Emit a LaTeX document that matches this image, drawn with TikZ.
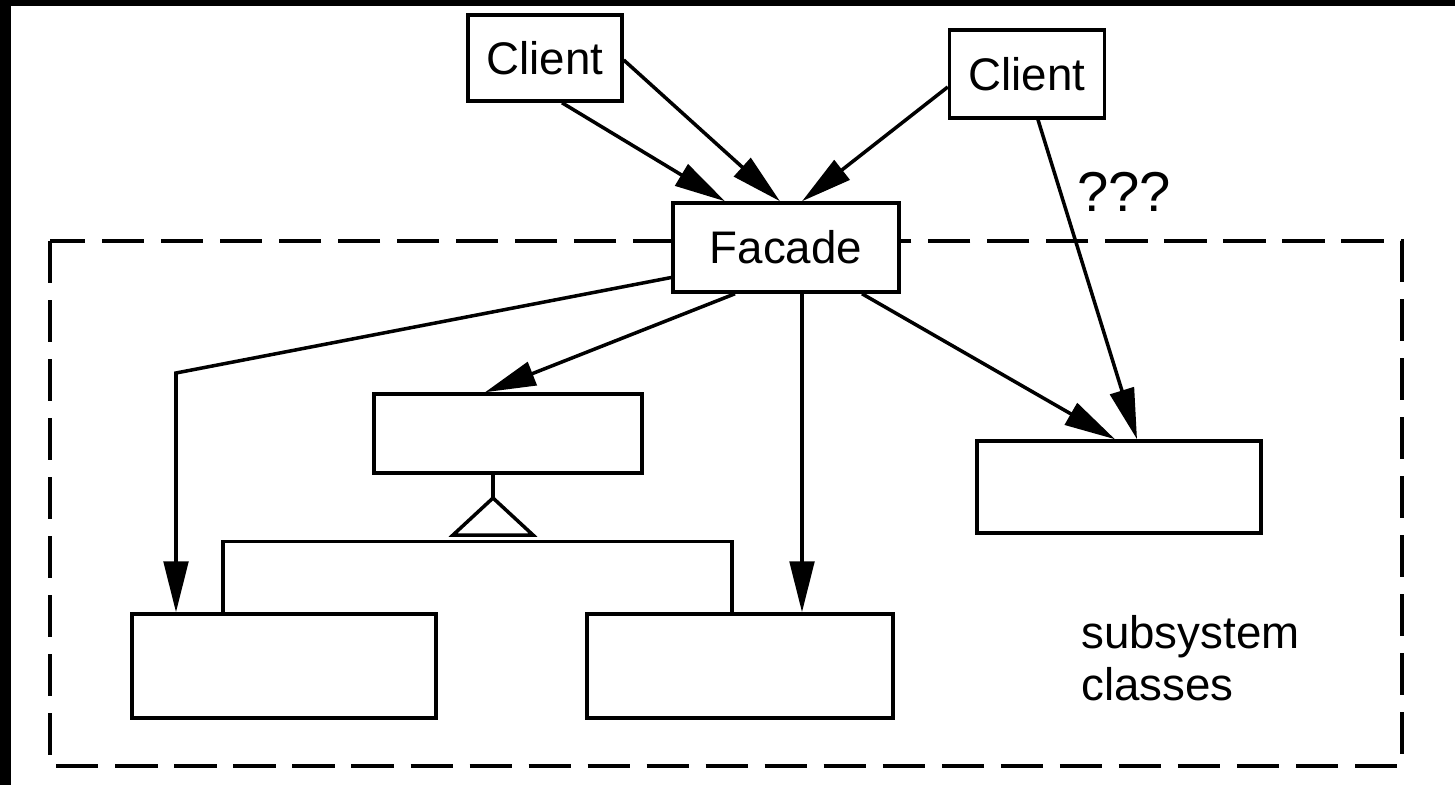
\documentclass[tikz,border=0pt]{standalone}
\usepackage{fontspec}
\setmainfont{Liberation Sans}
\usetikzlibrary{positioning,calc,arrows.meta}

\begin{document}
\begin{tikzpicture}
   [x=0.02cm,y=-0.02cm,
    every node/.style={inner sep=0pt,font=\fontsize{26}{29.5}\selectfont},
    cls/.style={draw,line width=2pt,fill=white},
    lin/.style={line width=2pt},
    arr/.style={line width=2pt,-{Triangle[length=29pt,width=14pt]}}]

%%%%%%%%%%%%%%%%%%%%%%%%%%%%%%%%%%%%%%%%%%%%%%%%%%%%%%%%%%%%%%%
% Frame and subsystem boundary
%%%%%%%%%%%%%%%%%%%%%%%%%%%%%%%%%%%%%%%%%%%%%%%%%%%%%%%%%%%%%%%

\fill[black] (0,0) rectangle (1455,785);
\fill[white] (11,6) rectangle (1455,785);

% Dashed box
\draw[lin, dash pattern=on 24pt off 9.6pt] (50,241) rectangle (1402,766);

%%%%%%%%%%%%%%%%%%%%%%%%%%%%%%%%%%%%%%%%%%%%%%%%%%%%%%%%%%%%%%%
% Classes
%%%%%%%%%%%%%%%%%%%%%%%%%%%%%%%%%%%%%%%%%%%%%%%%%%%%%%%%%%%%%%%

\node[cls,minimum width=3.08cm,minimum height=1.72cm] (client1) at (545,58) {Client};
\node[cls,minimum width=3.1cm,minimum height=1.76cm] (client2) at (1027,74) {Client};
\node[cls,minimum width=4.52cm,minimum height=1.78cm] (facade) at (786,247.5) {Facade};

\node[cls,minimum width=5.36cm,minimum height=1.58cm] (super) at (508,433.5) {};
\node[cls,minimum width=6.08cm,minimum height=2.08cm] (subL) at (284,666) {};
\node[cls,minimum width=6.12cm,minimum height=2.08cm] (subM) at (740,666) {};
\node[cls,minimum width=5.68cm,minimum height=1.84cm] (subR) at (1119,487) {};

% Labels
\node[font=\fontsize{32}{36}\selectfont] (qqq) at (1124,192) {???};
\node[anchor=west,align=left] (note) at (1081,658) {subsystem\\classes};

%%%%%%%%%%%%%%%%%%%%%%%%%%%%%%%%%%%%%%%%%%%%%%%%%%%%%%%%%%%%%%%
% Clients to facade
%%%%%%%%%%%%%%%%%%%%%%%%%%%%%%%%%%%%%%%%%%%%%%%%%%%%%%%%%%%%%%%

\draw[arr] ($(client1.south)+(17,0)$) -- ($(facade.north)+(-61,0)$);
\draw[arr] ($(client1.east)+(0,2)$) -- ($(facade.north)+(-6,0)$);
\draw[arr] ($(client2.west)+(0,13)$) -- ($(facade.north)+(16,0)$);
\draw[arr] ($(client2.south)+(11,0)$) -- ($(subR.north)+(18,0)$);

%%%%%%%%%%%%%%%%%%%%%%%%%%%%%%%%%%%%%%%%%%%%%%%%%%%%%%%%%%%%%%%
% Facade to subsystem classes
%%%%%%%%%%%%%%%%%%%%%%%%%%%%%%%%%%%%%%%%%%%%%%%%%%%%%%%%%%%%%%%

\coordinate (bend) at (176,373);
\draw[arr] ($(facade.west)+(0,30)$) -- (bend) -- ($(subL.north)+(-108,0)$);
\draw[arr] ($(facade.south)+(-51,0)$) -- ($(super.north)+(-23,0)$);
\draw[arr] ($(facade.south)+(16,0)$) -- ($(subM.north)+(62,0)$);
\draw[arr] ($(facade.south)+(76,0)$) -- ($(subR.north)+(-4,0)$);

% Inheritance
\coordinate (tri) at (493,498);
\draw[lin] ($(super.south)+(-15,0)$) -- (tri);
\draw[lin] (tri) -- ++(-40,37) -- ++(80,0) -- cycle;
\draw[lin] ($(subL.north)+(-61,0)$) |- ($(subM.north)+(-8,-71)$) -- ($(subM.north)+(-8,0)$);

\end{tikzpicture}
\end{document}
